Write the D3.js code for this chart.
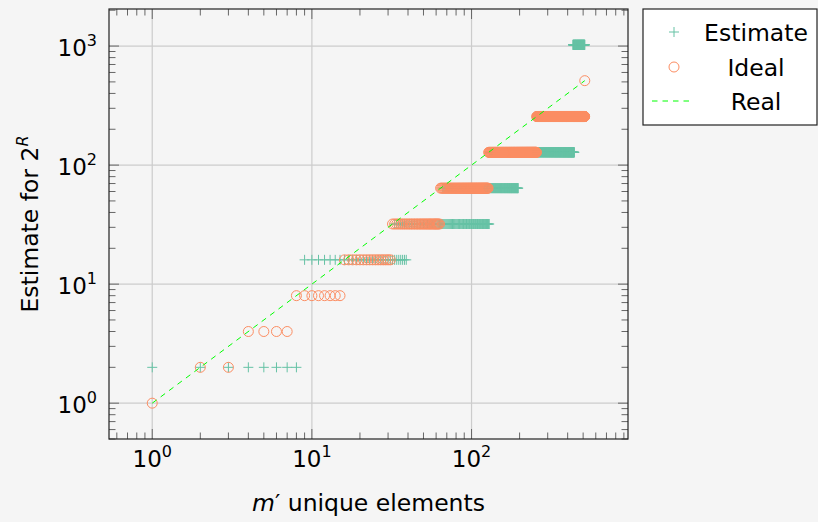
<!DOCTYPE html>
<html>
<head>
<meta charset="utf-8">
<script src="https://cdn.jsdelivr.net/npm/d3@7"></script>
<style>
  body { margin: 0; background: #f5f5f5; }
  svg { display: block; font-family: 'DejaVu Sans', sans-serif; }
</style>
</head>
<body>
<svg id="chart" width="818" height="522"></svg>
<script>
// Estimate series, stored as runs: level, first m', last m'
const estimateLevels = [2, 16, 32, 64, 128, 1024];
const estimateFrom = [1, 9, 33, 66, 130, 432];
const estimateTo = [8, 39, 129, 196, 440, 512];

// Ideal series, same run layout
const idealLevels = [1, 2, 4, 8, 16, 32, 64, 128, 256, 512];
const idealFrom = [1, 2, 4, 8, 16, 32, 64, 128, 256, 512];
const idealTo = [1, 3, 7, 15, 31, 63, 127, 255, 511, 512];

// Real: y = m'
const realX = [1, 512];
const realY = [1, 512];

const xMajor = [1, 10, 100];
const yMajor = [1, 10, 100, 1000];
const xExp = ['0', '1', '2'];
const yExp = ['0', '1', '2', '3'];

const legendNames = ['Estimate', 'Ideal', 'Real'];

const runsToPoints = (levels, from, to) =>
  levels.flatMap((lv, i) => d3.range(from[i], to[i] + 1).map((m) => ({ x: m, y: lv })));

const estimate = runsToPoints(estimateLevels, estimateFrom, estimateTo);
const ideal = runsToPoints(idealLevels, idealFrom, idealTo);

const pLeft = 109, pRight = 628, pTop = 9, pBottom = 439;
const x = d3.scaleLog().domain([0.536, 955]).range([pLeft, pRight]);
const y = d3.scaleLog().domain([0.5, 2048]).range([pBottom, pTop]);

const svg = d3.select('#chart');
const green = '#66c2a5', orange = '#fc8d62', lime = '#00ff00';
const crossPath = 'M-5,0H5M0,-5V5';

// grid
svg.append('g')
  .selectAll('line')
  .data(xMajor)
  .enter()
  .append('line')
  .attr('x1', (d) => x(d)).attr('x2', (d) => x(d))
  .attr('y1', pTop).attr('y2', pBottom)
  .attr('stroke', '#cccccc').attr('stroke-width', 1.2);
svg.append('g')
  .selectAll('line')
  .data(yMajor)
  .enter()
  .append('line')
  .attr('y1', (d) => y(d)).attr('y2', (d) => y(d))
  .attr('x1', pLeft).attr('x2', pRight)
  .attr('stroke', '#cccccc').attr('stroke-width', 1.2);

// ticks, inward on all four sides
const ticks = svg.append('g').attr('stroke', '#666').attr('stroke-width', 1);
const tickLen = (v) => (Math.abs(Math.log10(v) - Math.round(Math.log10(v))) < 1e-9 ? 10 : 6.5);
x.ticks().forEach((v) => {
  const px = x(v), l = tickLen(v);
  ticks.append('line').attr('x1', px).attr('x2', px).attr('y1', pBottom).attr('y2', pBottom - l);
  ticks.append('line').attr('x1', px).attr('x2', px).attr('y1', pTop).attr('y2', pTop + l);
});
y.ticks().forEach((v) => {
  const py = y(v), l = tickLen(v);
  ticks.append('line').attr('y1', py).attr('y2', py).attr('x1', pLeft).attr('x2', pLeft + l);
  ticks.append('line').attr('y1', py).attr('y2', py).attr('x1', pRight).attr('x2', pRight - l);
});

// estimate crosses
svg.append('g')
  .selectAll('path')
  .data(estimate)
  .enter()
  .append('path')
  .attr('transform', (d) => `translate(${x(d.x)},${y(d.y)})`)
  .attr('d', crossPath)
  .attr('fill', 'none')
  .attr('stroke', green)
  .attr('stroke-width', 1);

// ideal circles
svg.append('g')
  .selectAll('circle')
  .data(ideal)
  .enter()
  .append('circle')
  .attr('cx', (d) => x(d.x))
  .attr('cy', (d) => y(d.y))
  .attr('r', 5)
  .attr('fill', 'none')
  .attr('stroke', orange)
  .attr('stroke-width', 1);

// real line
svg.append('path')
  .datum(realX.map((v, i) => [v, realY[i]]))
  .attr('d', d3.line().x((d) => x(d[0])).y((d) => y(d[1])))
  .attr('fill', 'none')
  .attr('stroke', lime)
  .attr('stroke-width', 1)
  .attr('stroke-dasharray', '5.5,5');

// frame
svg.append('rect')
  .attr('x', pLeft).attr('y', pTop)
  .attr('width', pRight - pLeft).attr('height', pBottom - pTop)
  .attr('fill', 'none').attr('stroke', '#222').attr('stroke-width', 1.2);

// tick labels
const xl = svg.append('g').selectAll('text').data(xMajor).enter().append('text')
  .attr('x', (d) => x(d)).attr('y', 467)
  .attr('text-anchor', 'middle').style('font-size', '23px');
xl.append('tspan').text('10');
xl.append('tspan').attr('dy', -10).style('font-size', '16px').text((d, i) => xExp[i]);

const yl = svg.append('g').selectAll('text').data(yMajor).enter().append('text')
  .attr('x', 97).attr('y', (d) => y(d) + 10)
  .attr('text-anchor', 'end').style('font-size', '23px');
yl.append('tspan').text('10');
yl.append('tspan').attr('dy', -10).style('font-size', '16px').text((d, i) => yExp[i]);

// axis titles
const xt = svg.append('text')
  .attr('x', (pLeft + pRight) / 2).attr('y', 511)
  .attr('text-anchor', 'middle').style('font-size', '23.5px');
xt.append('tspan').style('font-style', 'italic').text('m');
xt.append('tspan').text('\u2032 unique elements');

const yt = svg.append('text')
  .attr('transform', `translate(38,${(pTop + pBottom) / 2}) rotate(-90)`)
  .attr('text-anchor', 'middle').style('font-size', '23.5px');
yt.append('tspan').text('Estimate for 2');
yt.append('tspan').attr('dy', -10).style('font-size', '16px').style('font-style', 'italic').text('R');

// legend
const lg = svg.append('g');
lg.append('rect')
  .attr('x', 643).attr('y', 9).attr('width', 174).attr('height', 116)
  .attr('fill', '#ffffff').attr('stroke', '#222').attr('stroke-width', 1.2);
const rowY = [32, 67, 101];
lg.append('path').attr('transform', `translate(674,${rowY[0]})`).attr('d', crossPath)
  .attr('stroke', green).attr('fill', 'none');
lg.append('circle').attr('cx', 674).attr('cy', rowY[1]).attr('r', 5)
  .attr('stroke', orange).attr('fill', 'none');
lg.append('line').attr('x1', 652).attr('x2', 692).attr('y1', rowY[2]).attr('y2', rowY[2])
  .attr('stroke', lime).attr('stroke-dasharray', '5.5,5');
lg.selectAll('text')
  .data(legendNames)
  .enter()
  .append('text')
  .attr('x', 756).attr('y', (d, i) => rowY[i] + 8.5)
  .attr('text-anchor', 'middle').style('font-size', '23.5px')
  .text((d) => d);
</script>
</body>
</html>
